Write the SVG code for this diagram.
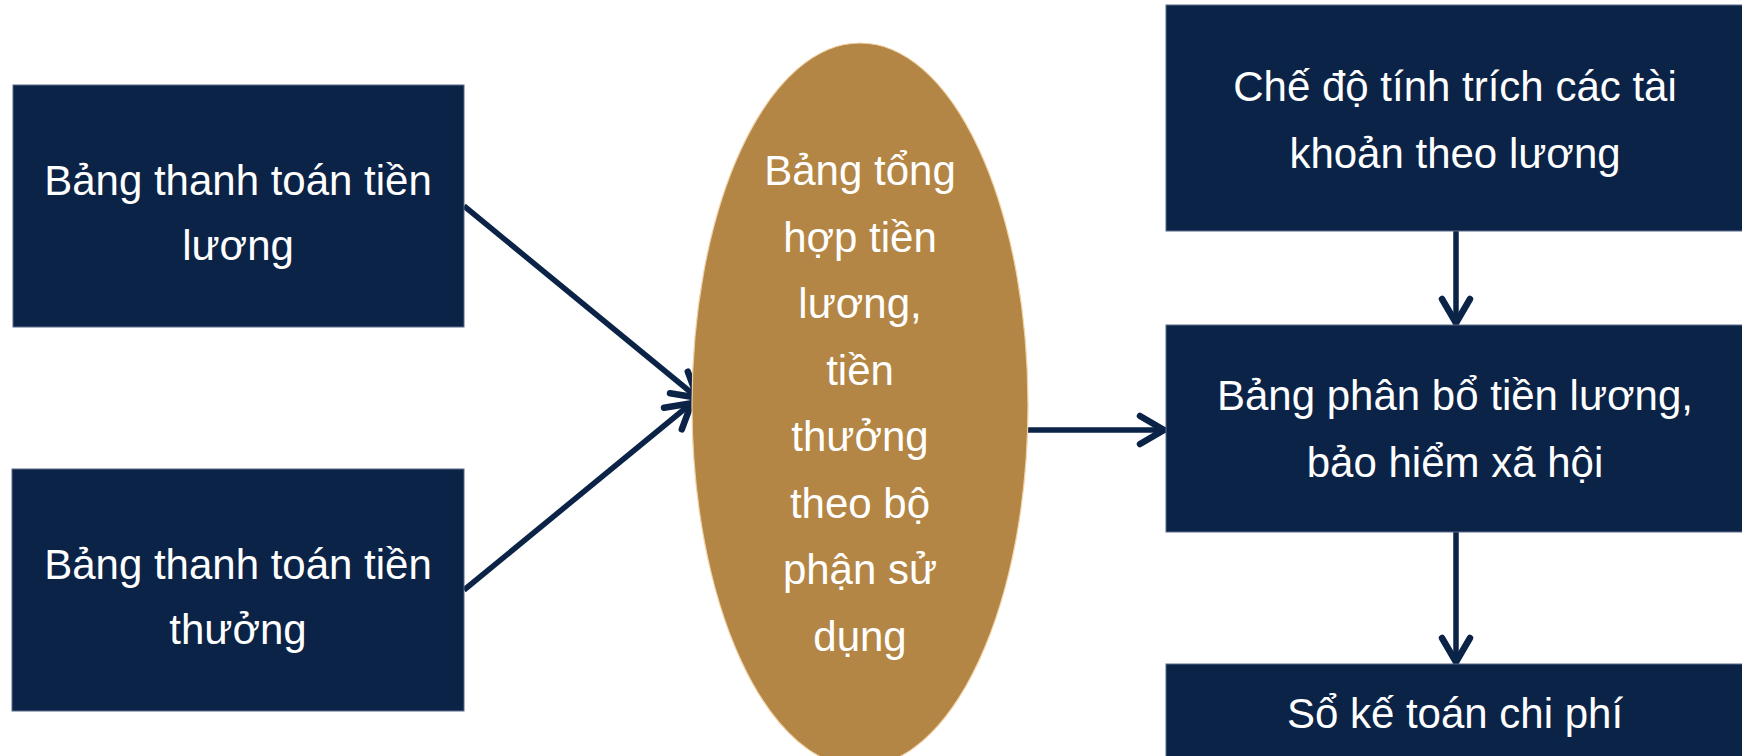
<svg xmlns="http://www.w3.org/2000/svg" width="1742" height="756" viewBox="0 0 1742 756">
<style>
.box{fill:#0b2347;stroke:#5a6a88;stroke-width:1}
.ell{fill:#b48645;stroke:#f0d2a8;stroke-width:1.2}
.t{font-family:"Liberation Sans",Arial,sans-serif;font-size:42px;fill:#ffffff;text-anchor:middle}
.c{fill:none;stroke:#0b2347;stroke-width:5.5}
</style>
<defs>
<marker id="ah" markerUnits="userSpaceOnUse" markerWidth="40" markerHeight="40" viewBox="-30 -20 40 40" refX="0" refY="0" orient="auto" overflow="visible">
<path d="M -26 -14 L -2 0 L -26 14" fill="none" stroke="#0b2347" stroke-width="6.5" stroke-linecap="round" stroke-linejoin="round"/>
</marker>
</defs>
<rect width="1742" height="756" fill="#ffffff"/>
<g id="connectors">
<line class="c" x1="464" y1="206" x2="699" y2="399" marker-end="url(#ah)"/>
<line class="c" x1="464" y1="590" x2="693" y2="402" marker-end="url(#ah)"/>
<line class="c" x1="1028" y1="430" x2="1166" y2="430" marker-end="url(#ah)"/>
<line class="c" x1="1456" y1="231" x2="1456" y2="325" marker-end="url(#ah)"/>
<line class="c" x1="1456" y1="532" x2="1456" y2="664" marker-end="url(#ah)"/>
</g>
<g id="node-luong">
<rect class="box" x="13" y="85" width="451" height="242"/>
<text class="t" x="238" y="195">Bảng thanh toán tiền</text>
<text class="t" x="238" y="260">lương</text>
</g>
<g id="node-thuong">
<rect class="box" x="12" y="469" width="452" height="242"/>
<text class="t" x="238" y="579">Bảng thanh toán tiền</text>
<text class="t" x="238" y="644">thưởng</text>
</g>
<g id="node-tonghop">
<ellipse class="ell" cx="860" cy="405" rx="168" ry="362"/>
<text class="t" x="860" y="185">Bảng tổng</text>
<text class="t" x="860" y="251.5">hợp tiền</text>
<text class="t" x="860" y="318">lương,</text>
<text class="t" x="860" y="384.5">tiền</text>
<text class="t" x="860" y="451">thưởng</text>
<text class="t" x="860" y="517.5">theo bộ</text>
<text class="t" x="860" y="584">phận sử</text>
<text class="t" x="860" y="650.5">dụng</text>
</g>
<g id="node-chedo">
<rect class="box" x="1166" y="5" width="590" height="226"/>
<text class="t" x="1455" y="101">Chế độ tính trích các tài</text>
<text class="t" x="1455" y="168">khoản theo lương</text>
</g>
<g id="node-phanbo">
<rect class="box" x="1166" y="325" width="590" height="207"/>
<text class="t" x="1455" y="410">Bảng phân bổ tiền lương,</text>
<text class="t" x="1455" y="477">bảo hiểm xã hội</text>
</g>
<g id="node-soketoan">
<rect class="box" x="1166" y="664" width="590" height="100"/>
<text class="t" x="1455" y="728">Sổ kế toán chi phí</text>
</g>
</svg>
